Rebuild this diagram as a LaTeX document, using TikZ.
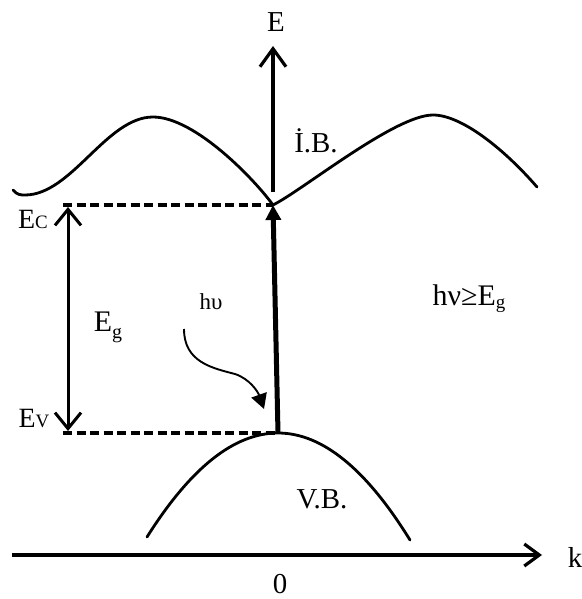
\documentclass[tikz,border=0pt]{standalone}
\usepackage{fontspec}
\setmainfont{Liberation Serif}
\usetikzlibrary{arrows.meta}
\begin{document}
\begin{tikzpicture}[x=1bp,y=-1bp,
  band/.style={line width=2.8bp, line join=round, line cap=round},
  axis/.style={line width=3.2bp},
  level/.style={line width=4bp, dash pattern=on 9bp off 4.5bp},
  lbl/.style={inner sep=0pt, font=\fontsize{29}{32}\selectfont},
  openhead/.style={-{Straight Barb[length=18bp,width=26bp,line width=3.2bp]}}
]
\useasboundingbox (0,0) rectangle (582,599);
% coordinates
\coordinate (ctop) at (273,205);
\coordinate (vtop) at (278,433);
\coordinate (eaxb) at (273,192);
\coordinate (eaxt) at (273,46);
\coordinate (kaxl) at (12,555);
\coordinate (kaxr) at (542,555);
\coordinate (ecl) at (63,205);
\coordinate (evl) at (63,433);
\coordinate (egt) at (68,207);
\coordinate (egb) at (68,431);
\coordinate (ws) at (184,329);
\coordinate (wm) at (235,374);
\coordinate (we) at (264,409);
% conduction band
\draw[band] (13,190) .. controls (17,195) and (21,195) .. (25,195)
  .. controls (71.5,195) and (106.5,117) .. (153,117)
  .. controls (195,117) and (255,180) .. (ctop)
  .. controls (303,190) and (395,115) .. (433,115)
  .. controls (462,115) and (505,150) .. (537,187);
% valence band
\draw[band] (147,537) .. controls (190.7,467.7) and (234.3,433) .. (vtop)
  .. controls (322,433) and (366,468.7) .. (410,540);
% levels
\draw[level] (ecl) -- (ctop);
\draw[level] (evl) -- (vtop);
% axes
\draw[axis, openhead] (eaxb) -- (eaxt);
\draw[axis, -{Straight Barb[length=15bp,width=22bp,line width=3.2bp]}] (kaxl) -- (kaxr);
% gap arrow
\draw[line width=3bp, {Straight Barb[length=16bp,width=26bp,line width=3bp]}-{Straight Barb[length=16bp,width=26bp,line width=3bp]}] (egt) -- (egb);
% transition
\draw[line width=5bp, -{Triangle[length=15bp,width=15bp]}] (vtop) -- (ctop);
% photon
\draw[line width=1.9bp, -{Triangle[length=15bp,width=16bp]}] (ws) .. controls (184,362) and (212,368) .. (wm) .. controls (250,379) and (258,392) .. (we);
% labels
\node[lbl] (lE) at (276,22) {E};
\node[lbl] (lk) at (575,557) {k};
\node[lbl] (l0) at (280,584) {0};
\node[lbl] (lIB) at (316,141) {İ.B.};
\node[lbl] (lVB) at (322,499) {V.B.};
\node[lbl, font=\fontsize{28}{30}\selectfont] (lEC) at (33,219) {E\fontsize{19}{20}\selectfont C};
\node[lbl, font=\fontsize{28}{30}\selectfont] (lEV) at (34,419) {E\fontsize{19}{20}\selectfont V};
\node[lbl, font=\fontsize{30}{32}\selectfont] (lEg) at (108,327) {E\raisebox{-7bp}{\fontsize{20}{22}\selectfont g}};
\node[lbl, font=\fontsize{23}{25}\selectfont] (lhu) at (211,302) {hυ};
\node[lbl, font=\fontsize{30}{32}\selectfont] (lhv) at (469,299) {hν≥E\raisebox{-3bp}{\fontsize{19}{20}\selectfont g}};
\end{tikzpicture}
\end{document}
